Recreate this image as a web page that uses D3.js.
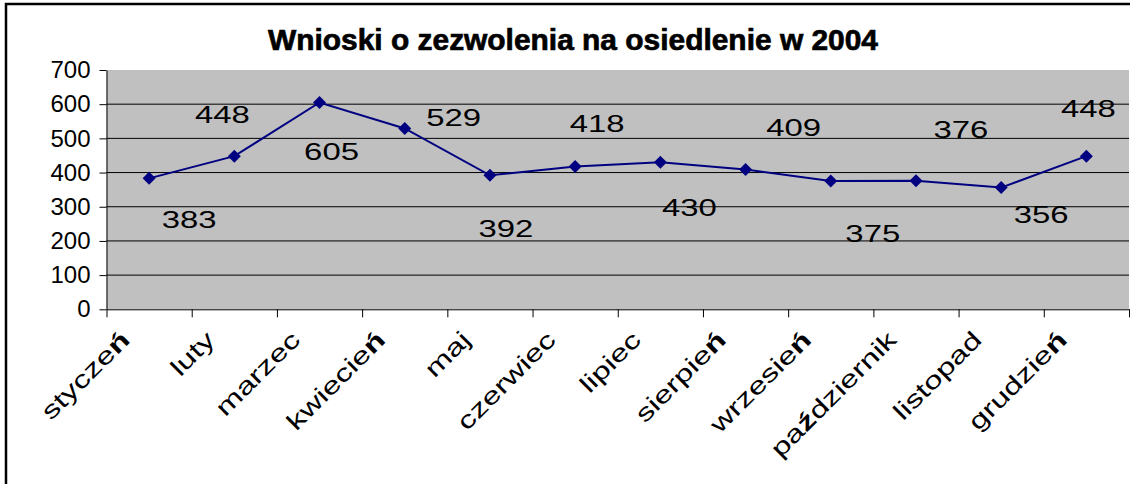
<!DOCTYPE html>
<html>
<head>
<meta charset="utf-8">
<title>Wnioski o zezwolenia na osiedlenie w 2004</title>
<style>
  body { margin: 0; background: #fff; }
  text { font-family: Arial, "Liberation Sans", sans-serif; fill: #000; }
</style>
</head>
<body>
<script src="https://cdn.jsdelivr.net/npm/d3@7/dist/d3.min.js"></script>
<script>
// data
var months = ["styczeń", "luty", "marzec", "kwiecień", "maj", "czerwiec",
              "lipiec", "sierpień", "wrzesień", "październik", "listopad", "grudzień"];
var values = [383, 448, 605, 529, 392, 418, 430, 409, 375, 376, 356, 448];
var yTicks = [0, 100, 200, 300, 400, 500, 600, 700];
var title = "Wnioski o zezwolenia na osiedlenie w 2004";

// where Excel dropped each value label, relative to its point (px)
var labelShift = [[40, 50], [-12, -33], [12, 58], [49, -2], [16, 62], [22, -34],
                  [29, 54], [48, -33], [42, 61], [45, -43], [40, 35], [2, -39]];

var W = 1130, H = 484;
var plot = {left: 106.5, right: 1129, top: 70, bottom: 309.3};
var stretch = 1.37;   // the labels are drawn horizontally stretched

var svg = d3.select("body").append("svg")
    .attr("width", W)
    .attr("height", H);

// chart border (runs off the picture on the right and bottom)
svg.append("rect")
    .attr("x", 6).attr("y", 4)
    .attr("width", 1300).attr("height", 700)
    .attr("fill", "#fff")
    .attr("stroke", "#000")
    .attr("stroke-width", 2.5);

var x = d3.scaleBand().domain(months).range([plot.left, plot.right]).padding(0);
var xEdge = d3.scaleLinear().domain([0, months.length]).range([plot.left, plot.right]);
var y = d3.scaleLinear().domain([0, 700]).range([plot.bottom, plot.top]);

// plot area
svg.append("rect")
    .attr("x", plot.left).attr("y", plot.top)
    .attr("width", plot.right - plot.left)
    .attr("height", plot.bottom - plot.top)
    .attr("fill", "#c0c0c0");

// gridlines
svg.append("g").selectAll("line")
    .data(yTicks.filter(function (d) { return d > 0 && d < 700; }))
    .enter().append("line")
    .attr("x1", plot.left).attr("x2", plot.right)
    .attr("y1", function (d) { return y(d); })
    .attr("y2", function (d) { return y(d); })
    .attr("stroke", "#000")
    .attr("stroke-width", 1);

// y axis
var yAxis = svg.append("g")
    .attr("transform", "translate(" + plot.left + ",0)")
    .call(d3.axisLeft(y).tickValues(yTicks).tickSize(7).tickPadding(9).tickSizeOuter(0));
yAxis.selectAll("path, line").attr("stroke", "#000").attr("stroke-width", 1);
yAxis.selectAll("text")
    .style("font-size", "24px")
    .style("font-family", "Arial, 'Liberation Sans', sans-serif")
    .attr("fill", "#000");

// x axis, ticks between categories
var xAxis = svg.append("g")
    .attr("transform", "translate(0," + plot.bottom + ")")
    .call(d3.axisBottom(xEdge).tickValues(d3.range(months.length + 1))
      .tickFormat("").tickSize(8).tickSizeOuter(0));
xAxis.selectAll("path, line").attr("stroke", "#000").attr("stroke-width", 1);

// rotated month labels, the Polish letters come out bold
var mLabels = svg.append("g").selectAll("text")
    .data(months)
    .enter().append("text")
    .attr("text-anchor", "end")
    .style("font-size", "24px")
    .attr("transform", function (d) {
      return "translate(" + (x(d) + x.bandwidth() / 2 - 18) + "," + (plot.bottom + 32) + ")" +
             " rotate(-45) scale(" + stretch + ",1)";
    });
mLabels.each(function (d) {
  var t = d3.select(this);
  var parts = d.split(/([ńź])/);
  parts.forEach(function (p) {
    if (!p) return;
    t.append("tspan")
      .attr("font-weight", /[ńź]/.test(p) ? "bold" : "normal")
      .text(p);
  });
});

// series line
var line = d3.line()
    .x(function (d, i) { return x(months[i]) + x.bandwidth() / 2; })
    .y(function (d) { return y(d); });

svg.append("path")
    .datum(values)
    .attr("d", line)
    .attr("fill", "none")
    .attr("stroke", "#000080")
    .attr("stroke-width", 2);

// diamond markers
svg.append("g").selectAll("path")
    .data(values)
    .enter().append("path")
    .attr("d", "M0,-6.5L6.5,0L0,6.5L-6.5,0Z")
    .attr("fill", "#000080")
    .attr("transform", function (d, i) {
      return "translate(" + (x(months[i]) + x.bandwidth() / 2) + "," + y(d) + ")";
    });

// value labels
svg.append("g").selectAll("text")
    .data(values)
    .enter().append("text")
    .attr("text-anchor", "middle")
    .style("font-size", "24px")
    .attr("transform", function (d, i) {
      var px = x(months[i]) + x.bandwidth() / 2 + labelShift[i][0];
      var py = y(d) + labelShift[i][1];
      return "translate(" + px + "," + py + ") scale(" + stretch + ",1)";
    })
    .text(function (d) { return d; });

// title
svg.append("text")
    .attr("x", 268)
    .attr("y", 50)
    .attr("font-weight", "bold")
    .style("font-size", "30px")
    .attr("stroke", "#000")
    .attr("stroke-width", 0.7)
    .attr("textLength", 610)
    .attr("lengthAdjust", "spacingAndGlyphs")
    .text(title);
</script>
</body>
</html>
